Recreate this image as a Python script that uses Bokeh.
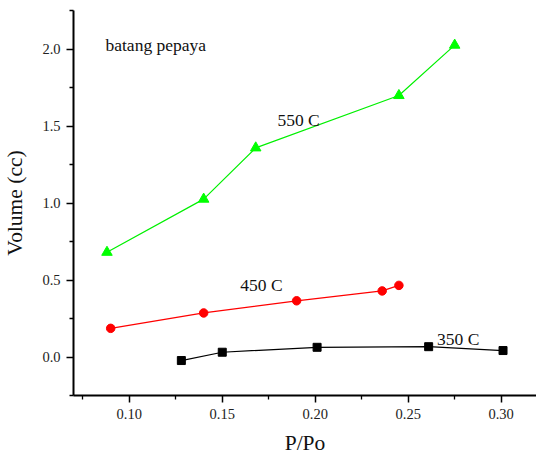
from bokeh.plotting import figure
from bokeh.models import Range1d, FixedTicker, CustomJSTickFormatter
from bokeh.core.properties import value
from bokeh.embed import file_html
from bokeh.resources import INLINE

# data
x350 = [0.128, 0.150, 0.201, 0.261, 0.301]
y350 = [-0.023, 0.031, 0.063, 0.067, 0.042]
x450 = [0.090, 0.140, 0.190, 0.236, 0.245]
y450 = [0.186, 0.286, 0.365, 0.429, 0.465]
x550 = [0.088, 0.140, 0.168, 0.245, 0.275]
y550 = [0.68, 1.025, 1.358, 1.698, 2.025]

labels = ["batang pepaya", "550 C", "450 C", "350 C"]
label_x = [0.0872, 0.1797, 0.1597, 0.2655]
label_y = [2.025, 1.536, 0.469, 0.119]

xticks = [0.10, 0.15, 0.20, 0.25, 0.30]
xminor = [0.075, 0.125, 0.175, 0.225, 0.275]
yticks = [0.0, 0.5, 1.0, 1.5, 2.0]
yminor = [-0.25, 0.25, 0.75, 1.25, 1.75, 2.25]

FONT = "Liberation Serif"

p = figure(width=536, height=457, output_backend="svg", toolbar_location=None,
           x_range=Range1d(0.07, 0.319), y_range=Range1d(-0.25, 2.25),
           min_border_left=73, min_border_right=0, min_border_top=10,
           min_border_bottom=62)
p.outline_line_color = None
p.xgrid.visible = False
p.ygrid.visible = False
p.background_fill_color = "white"
p.border_fill_color = "white"

p.line(x350, y350, color="black", line_width=1.2)
p.scatter(x350, y350, marker="square", size=8, color="black")
p.line(x450, y450, color="#ff0000", line_width=1.2)
p.scatter(x450, y450, marker="circle", size=8.5, color="#ff0000")
p.line(x550, y550, color="#00f000", line_width=1.2)
p.scatter(x550, y550, marker="triangle", size=10.5, color="#00ff00")

p.text(label_x, label_y, text=labels, text_font=value(FONT), text_font_size="17.5px",
       text_color="#111111", text_baseline="alphabetic", text_align="left")

for ax in (p.xaxis[0], p.yaxis[0]):
    ax.axis_line_width = 2
    ax.axis_line_color = "black"
    ax.major_tick_line_width = 1.5
    ax.minor_tick_line_width = 1.3
    ax.major_tick_line_color = "black"
    ax.minor_tick_line_color = "black"
    ax.major_tick_out = 7
    ax.major_tick_in = 0
    ax.minor_tick_out = 4
    ax.minor_tick_in = 0
    ax.major_label_text_font = FONT
    ax.major_label_text_font_size = "14.5px"
    ax.major_label_text_color = "#222222"
    ax.major_label_standoff = 6
    ax.axis_label_text_font = FONT
    ax.axis_label_text_font_size = "21.5px"
    ax.axis_label_text_font_style = "normal"
    ax.axis_label_text_color = "#111111"

p.xaxis.axis_label_standoff = 9
p.yaxis.axis_label_standoff = 12
p.xaxis.ticker = FixedTicker(ticks=xticks, minor_ticks=xminor)
p.yaxis.ticker = FixedTicker(ticks=yticks, minor_ticks=yminor)
p.xaxis.formatter = CustomJSTickFormatter(code="return tick.toFixed(2);")
p.yaxis.formatter = CustomJSTickFormatter(code="return tick.toFixed(1);")
p.xaxis.axis_label = "P/Po"
p.yaxis.axis_label = "Volume (cc)"

open("out.html", "w").write(file_html(p, INLINE))
